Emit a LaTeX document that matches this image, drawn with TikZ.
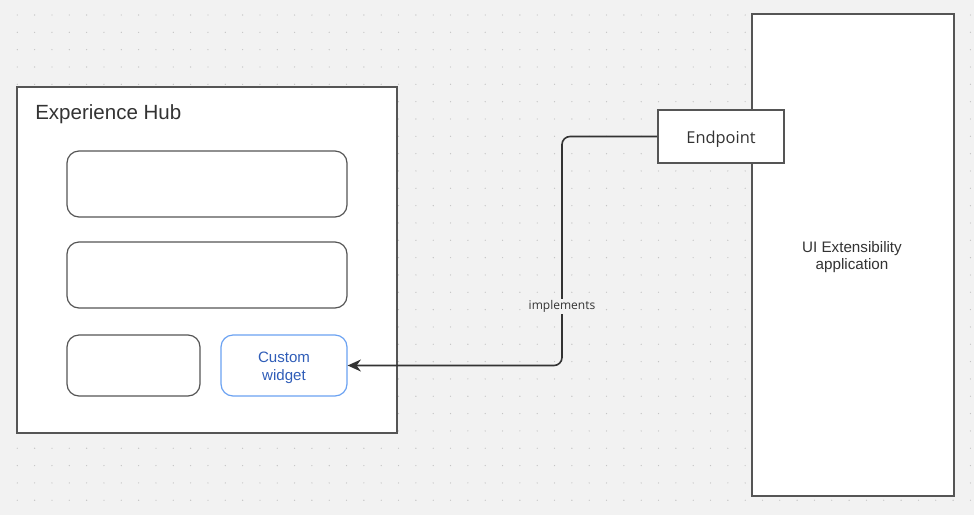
\documentclass[tikz,border=0pt]{standalone}
\usepackage{fontspec}
\setmainfont{Liberation Sans}
\newfontfamily\opensans{Open Sans}
\usetikzlibrary{arrows.meta}
\definecolor{bg}{HTML}{F2F2F2}
\definecolor{dotc}{HTML}{C4C4C4}
\definecolor{edge}{HTML}{555555}
\definecolor{txt}{HTML}{333333}
\definecolor{blueedge}{HTML}{6BA2F2}
\definecolor{bluetxt}{HTML}{2F5DB8}
\tikzset{
  panel/.style={draw=edge, line width=1.2pt, fill=white},
  slot/.style={draw=edge, line width=0.9pt, fill=white, rounded corners=9pt},
  widget/.style={draw=blueedge, line width=0.9pt, fill=white, rounded corners=9pt},
  conn/.style={draw=txt, line width=1.2pt, rounded corners=6pt},
}
\begin{document}
\begin{tikzpicture}[x=0.75pt,y=-0.75pt]
\useasboundingbox (0,0) rectangle (974,515);
\fill[bg] (0,0) rectangle (974,515);
\foreach \i in {0,...,56} {
  \foreach \j in {0,...,29} {
    \fill[dotc] ({17.3+\i*17.33},{15+\j*17.33}) circle (0.5pt);
  }
}
% Experience Hub
\draw[panel] (17,87) rectangle (397,433);
\node[anchor=base west, text=txt, font=\fontsize{15.4}{18}\selectfont, inner sep=0pt] (hubtitle) at (35,119) {Experience Hub};
\draw[slot] (67,151) rectangle (347,217);
\draw[slot] (67,242) rectangle (347,308);
\draw[slot] (67,335) rectangle (200,396);
\node[widget, minimum width=126*0.75pt, minimum height=61*0.75pt, inner sep=0pt, align=center, text=bluetxt, font=\fontsize{11.3}{13.5}\selectfont] (cw) at (284,365.5) {};
\node[align=center, text=bluetxt, font=\fontsize{11.3}{13.5}\selectfont] (cwlabel) at (284,367.5) {Custom\\widget};
% UI Extensibility application
\node[panel, minimum width=202*0.75pt, minimum height=482*0.75pt, inner sep=0pt] (app) at (853,255) {};
\node[align=center, text=txt, font=\fontsize{11.4}{12.8}\selectfont] (applabel) at (852,257.5) {UI Extensibility\\application};
% Endpoint
\node[panel, minimum width=126*0.75pt, minimum height=53*0.75pt, inner sep=0pt] (ep) at (721,136.5) {};
\node[text=txt, font=\opensans\fontsize{12.3}{14}\selectfont] (eplabel) at (721,139) {Endpoint};
% connector
\coordinate (c1) at (562,136.5);
\coordinate (c2) at (562,365.5);
\draw[conn, -{Stealth[length=10pt,width=9pt]}] (ep.west) -- (c1) -- (c2) -- (cw.east);
\node[fill=bg, inner sep=1pt, text=txt, font=\opensans\fontsize{9}{11}\selectfont] (impl) at (562,306.5) {implements};
\end{tikzpicture}
\end{document}
